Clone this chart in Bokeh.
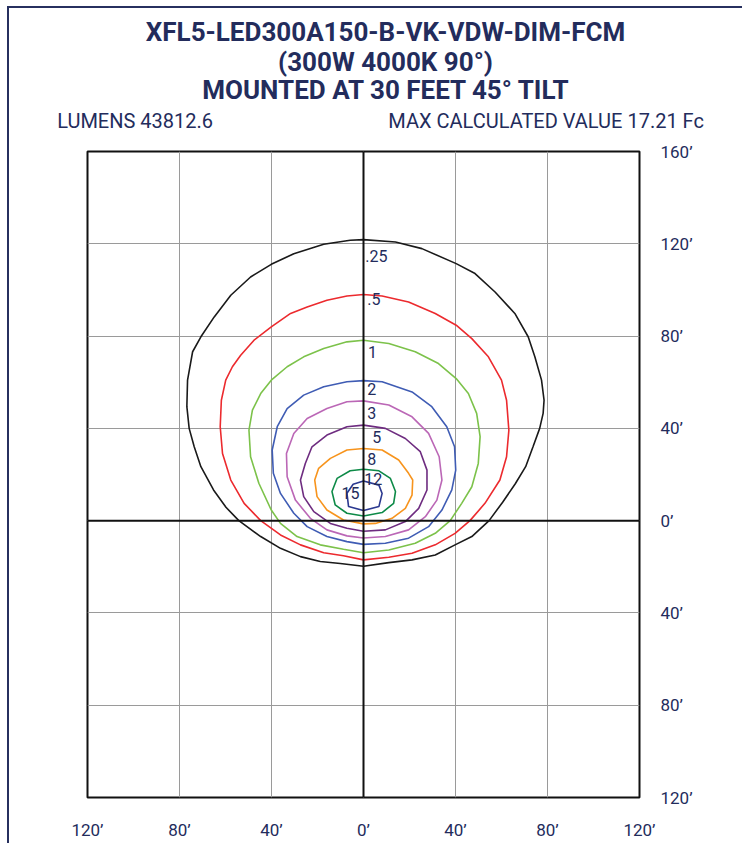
from bokeh.plotting import figure
from bokeh.models import FixedTicker, Span, LinearAxis
from bokeh.layouts import column
from bokeh.core.properties import value
from bokeh.embed import file_html
from bokeh.resources import INLINE

# ---------------- data ----------------
title_lines = ["XFL5-LED300A150-B-VK-VDW-DIM-FCM", "(300W 4000K 90°)", "MOUNTED AT 30 FEET 45° TILT"]
info_texts = ["LUMENS 43812.6", "MAX CALCULATED VALUE 17.21 Fc"]

x_ticks = [-120, -80, -40, 0, 40, 80, 120]
x_tick_labels = ["120’", "80’", "40’", "0’", "40’", "80’", "120’"]
y_ticks = [-120, -80, -40, 0, 40, 80, 120, 160]
y_tick_labels = ["120’", "80’", "40’", "0’", "40’", "80’", "120’", "160’"]

levels = [".25", ".5", "1", "2", "3", "5", "8", "12", "15"]
level_colors = ["#1a1a1a", "#ec2a2e", "#7cc24a", "#3f5cb4", "#bb67b6", "#6e2c80", "#f7941d", "#0d8a47", "#2b3990"]

c025_x = [0, 13.9, 25.4, 40.3, 48.5, 57.2, 65.8, 71.6, 74.5, 77.4, 78.5, 78.1, 76.6, 73.7, 70.5, 66, 60.5, 54.6, 47.1, 39.8, 31.2, 21.1, 11, 0,
          -10.1, -18.8, -27.4, -36.1, -44.7, -54.2, -59.8, -65.2, -70.7, -73.6, -75.8, -76.8, -76.5, -74.3, -70.7, -64.9, -57.7, -49.1, -40.1, -30.3, -17.3, -5.8, 0]
c025_y = [121.8, 120.8, 117.9, 111.4, 107.1, 99.1, 89.8, 79.7, 71, 60.9, 52.2, 46.5, 40, 32, 23.4, 16, 8, 0, -6.9, -10.5, -14.9, -17, -18.2, -19.8,
          -18.6, -17.7, -15.6, -12, -6.9, 0, 5.8, 13.3, 23.4, 32, 40, 49.4, 60.9, 73.2, 79.7, 88.3, 97.7, 105.6, 111.1, 115.7, 119.8, 121.5, 121.8]

c05_x = [0, 8.1, 19.6, 31.2, 40.3, 47.1, 54.3, 60, 62.2, 63.2, 62.2, 59.3, 52.8, 46.3, 39.8, 31.2, 21.1, 11, 0,
         -8.7, -17.3, -27.4, -36.1, -44.7, -51.9, -57.7, -61.3, -62.3, -61.8, -59.9, -57, -53.4, -47.6, -40.1, -31.7, -24.5, -15.9, -7.2, 0]
c05_y = [98, 97.4, 94.8, 89.8, 84.7, 78.9, 71, 60.9, 52.2, 39.2, 27.7, 17.6, 7.5, 0, -5.5, -10.5, -14.1, -15.9, -17,
         -15.2, -13.9, -10.5, -6.2, 0, 7.5, 17.6, 29.1, 40.7, 52.2, 60.9, 66.7, 71.7, 78.2, 84, 89.8, 92.6, 95.5, 97.4, 98]

c1_x = [0, 11, 22.5, 32.6, 40.3, 45.6, 49.2, 50.7, 49.9, 47.1, 42.7, 37.7, 31.2, 22.5, 11, 0,
        -8.7, -18.8, -28.9, -36.1, -40.1, -45.5, -49.1, -49.8, -48.3, -44.7, -40.1, -33.2, -26, -17.3, -7.2, 0]
c1_y = [78.2, 76.8, 73.2, 68.1, 61.6, 55.1, 46.5, 36.4, 24.8, 14.7, 7.5, 0, -5.5, -9.8, -12.7, -13.9,
        -12.4, -10.5, -6.9, -1.2, 4.6, 16.2, 27.7, 39.2, 47.9, 55.1, 60.9, 66.7, 71, 74.6, 77.5, 78.2]

c2_x = [0, 8.1, 21.1, 29.7, 36.2, 39.6, 40.1, 38.4, 34.1, 28.3, 19.6, 9.5, 0,
        -7.2, -15.9, -24.5, -30.3, -36.1, -39.2, -39.7, -37.5, -33.2, -26, -17.3, -7.2, 0]
c2_y = [60.7, 60.2, 55.8, 49.4, 40.7, 32, 21.9, 13.3, 4.6, -2.6, -7.6, -9.8, -10.3,
        -9.1, -6.9, -2.6, 3.2, 11.8, 20.5, 30.6, 40.7, 48.6, 54.4, 58, 60.2, 60.7]

c3_x = [0, 11, 21.1, 28.3, 32.9, 34.1, 31.9, 26.9, 19.6, 9.5, 0,
        -7.2, -15.9, -23.1, -29.6, -33.2, -33.5, -30.3, -24.5, -15.9, -7.2, 0]
c3_y = [51.9, 50.1, 45, 37.8, 27.7, 17.6, 8.9, 1.7, -4, -6.9, -7.5,
        -6.6, -4, 1, 8.9, 19, 29.1, 37.8, 44.3, 48.6, 51.5, 51.9]

c5_x = [0, 9.5, 18.2, 24.7, 27.6, 27.6, 24, 18.2, 9.5, 0,
        -7.2, -14.4, -21.6, -26, -27.4, -25.3, -22.4, -15.9, -7.2, 0]
c5_y = [41.4, 40, 35.6, 29.9, 21.9, 13.3, 5.3, -0.4, -4, -4.6,
        -3.3, -1.2, 3.9, 10.4, 17.6, 24.8, 32, 37.1, 40.7, 41.4]

c8_x = [0, 8.1, 15.3, 19.6, 21.4, 21.1, 18.2, 12.4, 5.2, 0,
        -8.7, -15.9, -20.2, -21.2, -19.5, -14.4, -7.2, 0]
c8_y = [31.3, 30.6, 26.3, 20.5, 17.6, 11.1, 5.3, 1, -1.2, -1.4,
        0.3, 4.6, 10.4, 17.6, 22.7, 27, 30.6, 31.3]

c12_x = [0, 6.7, 11.7, 13.9, 13.1, 8.1, 0, -7.2, -12.3, -13.7, -11.5, -5.8, 0]
c12_y = [22.3, 21.6, 18.3, 12.6, 7.5, 3.5, 2, 3.2, 6.8, 12.6, 18.3, 21.6, 22.3]

c15_x = [0, 6.7, 8.1, 6.7, 0, -6.5, -7.2, -4.5, 0]
c15_y = [17.2, 15.4, 11.8, 6.1, 4.4, 6.1, 11.9, 15.8, 17.2]

contours_x = [c025_x, c05_x, c1_x, c2_x, c3_x, c5_x, c8_x, c12_x, c15_x]
contours_y = [c025_y, c05_y, c1_y, c2_y, c3_y, c5_y, c8_y, c12_y, c15_y]

label_x = [0.8, 1.6, 2.0, 1.6, 1.6, 3.8, 1.6, 0.3, -9.6]
label_y = [114.6, 95.9, 73.0, 57.0, 46.6, 36.2, 26.7, 18.1, 12.0]

# ---------------- layout constants ----------------
NAVY = "#232c5c"
FONT = "Roboto"
OX, OY = 9, 8            # content origin on the page (after margin + 2px border)
W = 742 - OX             # 733
HH = 97                  # header height
MH = 843 - OY - HH       # main figure height
ML, MR = 78, 103
MT = 151 - OY - HH       # frame top at page y 151
MB = MH - MT - 646

# ---------------- header (title lines) ----------------
hdr = figure(width=W, height=HH, x_range=(87, 639), y_range=(OY + HH, OY),
             output_backend="svg", toolbar_location=None,
             x_axis_location=None, y_axis_location=None,
             min_border_left=0, min_border_right=0, min_border_top=0, min_border_bottom=0)
hdr.grid.visible = False
hdr.outline_line_color = None
hdr.background_fill_color = "white"
hdr.border_fill_color = "white"

# positions in page pixels (header frame spans page x 87..639)
hdr.text(x=[385, 385, 386], y=[31.5, 61.5, 89], text=title_lines,
         text_font=value(FONT), text_font_style="bold", text_font_size="26px",
         text_color=NAVY, text_align="center", text_baseline="middle")

# ---------------- main plot ----------------
p = figure(width=W, height=MH, x_range=(-120, 120), y_range=(-120, 160),
           output_backend="svg", toolbar_location=None,
           x_axis_location="below", y_axis_location="right",
           min_border_left=ML, min_border_right=MR, min_border_top=MT, min_border_bottom=MB)

p.outline_line_color = "#111111"
p.outline_line_width = 2
p.background_fill_color = "white"
p.border_fill_color = "white"

for ax, ticks, labels in ((p.xaxis[0], x_ticks, x_tick_labels), (p.yaxis[0], y_ticks, y_tick_labels)):
    ax.ticker = FixedTicker(ticks=ticks)
    ax.major_label_overrides = {t: l for t, l in zip(ticks, labels)}
    ax.axis_line_color = None
    ax.major_tick_line_color = None
    ax.minor_tick_line_color = None
    ax.major_label_text_font = FONT
    ax.major_label_text_font_size = "17px"
    ax.major_label_text_color = NAVY
p.xaxis[0].major_label_standoff = 16
p.yaxis[0].major_label_standoff = 15

# info row above the frame (LUMENS / MAX CALCULATED VALUE)
info_pos = [-99.3, 79.4]
info_axis = LinearAxis(ticker=FixedTicker(ticks=info_pos),
                       major_label_overrides={t: s for t, s in zip(info_pos, info_texts)},
                       axis_line_color=None, major_tick_line_color=None, minor_tick_line_color=None,
                       major_tick_out=0, major_tick_in=0, minor_tick_out=0, minor_tick_in=0,
                       major_label_standoff=19, major_label_text_font=FONT,
                       major_label_text_font_size="20px", major_label_text_color=NAVY)
p.add_layout(info_axis, "above")

p.xgrid.ticker = FixedTicker(ticks=x_ticks)
p.ygrid.ticker = FixedTicker(ticks=y_ticks)
for g in (p.xgrid[0], p.ygrid[0]):
    g.grid_line_color = "#9a9a9a"
    g.grid_line_width = 1
    g.grid_line_alpha = 1

p.add_layout(Span(location=0, dimension="height", line_color="#111111", line_width=2))
p.add_layout(Span(location=0, dimension="width", line_color="#111111", line_width=2))

for xs, ys, col in zip(contours_x, contours_y, level_colors):
    p.line(xs, ys, line_color=col, line_width=1.6)

p.text(x=label_x, y=label_y, text=levels, text_font=value(FONT), text_font_size="16px",
       text_color=NAVY, text_align="left", text_baseline="middle")

layout = column(hdr, p, spacing=0)
layout.styles = {"border-left": "2px solid #27305f", "border-top": "2px solid #27305f",
                 "margin-left": "7px", "margin-top": "6px"}

open("out.html", "w").write(file_html(layout, INLINE))
